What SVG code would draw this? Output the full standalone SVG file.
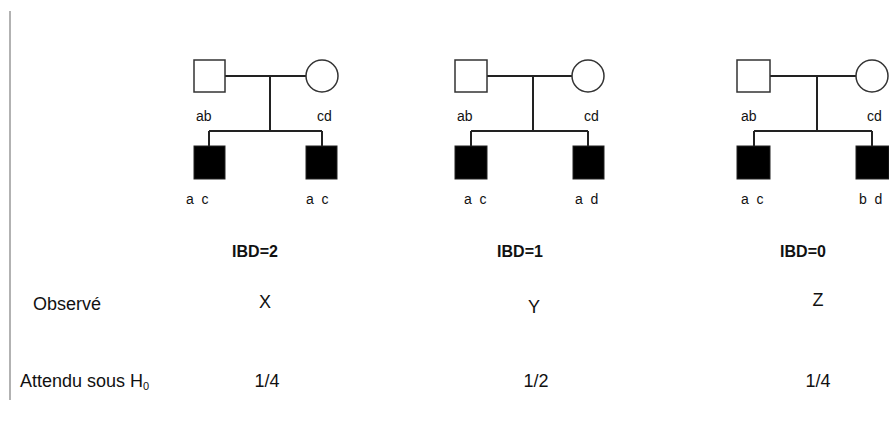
<svg xmlns="http://www.w3.org/2000/svg" width="889" height="428" viewBox="0 0 889 428">
<style>
.bg{fill:#fff}
.par{fill:#fff;stroke:#333;stroke-width:1.5}
.kid{fill:#000;stroke:#222;stroke-width:1}
.ln{stroke:#222;stroke-width:2;fill:none}
.al{font-family:"Liberation Sans",Arial,sans-serif;font-size:14px;fill:#111}
.tx{font-family:"Liberation Sans",Arial,sans-serif;font-size:18px;fill:#111}
.hd{font-family:"Liberation Sans",Arial,sans-serif;font-size:16px;font-weight:bold;fill:#111}
</style>
<rect class="bg" x="0" y="0" width="889" height="428"/>
<line x1="10" y1="11" x2="10" y2="400" stroke="#999" stroke-width="1.5"/>
<g id="connectors">
<path class="ln" d="M225 76H306M270 76V131M209 131H322M209 131V146M322 131V146"/>
<path class="ln" d="M487 76H572M533 76V131M471 131H588M471 131V146M588 131V146"/>
<path class="ln" d="M770 76H856M817 76V131M754 131H872M754 131V146M872 131V146"/>
</g>
<g id="ped1-father"><rect class="par" x="194" y="60" width="31" height="32"/><text class="al" x="196" y="121">ab</text></g>
<g id="ped1-mother"><circle class="par" cx="322" cy="76" r="16"/><text class="al" x="317" y="121">cd</text></g>
<g id="ped1-child1"><rect class="kid" x="194" y="146" width="31" height="33"/><text class="al" x="186" y="204" xml:space="preserve">a  c</text></g>
<g id="ped1-child2"><rect class="kid" x="306" y="146" width="31" height="33"/><text class="al" x="306" y="204" xml:space="preserve">a  c</text></g>
<g id="ped2-father"><rect class="par" x="455" y="60" width="32" height="32"/><text class="al" x="457" y="121">ab</text></g>
<g id="ped2-mother"><circle class="par" cx="588" cy="76" r="16"/><text class="al" x="584" y="121">cd</text></g>
<g id="ped2-child1"><rect class="kid" x="455" y="146" width="32" height="33"/><text class="al" x="464" y="204" xml:space="preserve">a  c</text></g>
<g id="ped2-child2"><rect class="kid" x="573" y="146" width="31" height="33"/><text class="al" x="575" y="204" xml:space="preserve">a  d</text></g>
<g id="ped3-father"><rect class="par" x="737" y="60" width="33" height="32"/><text class="al" x="741" y="121">ab</text></g>
<g id="ped3-mother"><circle class="par" cx="872" cy="76" r="16"/><text class="al" x="867" y="121">cd</text></g>
<g id="ped3-child1"><rect class="kid" x="737" y="146" width="33" height="33"/><text class="al" x="741" y="204" xml:space="preserve">a  c</text></g>
<g id="ped3-child2"><rect class="kid" x="856" y="146" width="33" height="33"/><text class="al" x="859" y="204" xml:space="preserve">b  d</text></g>
<g id="table">
<text class="hd" x="255" y="257" text-anchor="middle">IBD=2</text>
<text class="hd" x="520" y="257" text-anchor="middle">IBD=1</text>
<text class="hd" x="803" y="257" text-anchor="middle">IBD=0</text>
<text class="tx" x="33" y="310">Observé</text>
<text class="tx" x="265" y="308" text-anchor="middle">X</text>
<text class="tx" x="534" y="313" text-anchor="middle">Y</text>
<text class="tx" x="818" y="306" text-anchor="middle">Z</text>
<text class="tx" x="20" y="387">Attendu sous H<tspan font-size="11" dy="3">0</tspan></text>
<text class="tx" x="267" y="387" text-anchor="middle">1/4</text>
<text class="tx" x="536" y="387" text-anchor="middle">1/2</text>
<text class="tx" x="818" y="387" text-anchor="middle">1/4</text>
</g>
</svg>
